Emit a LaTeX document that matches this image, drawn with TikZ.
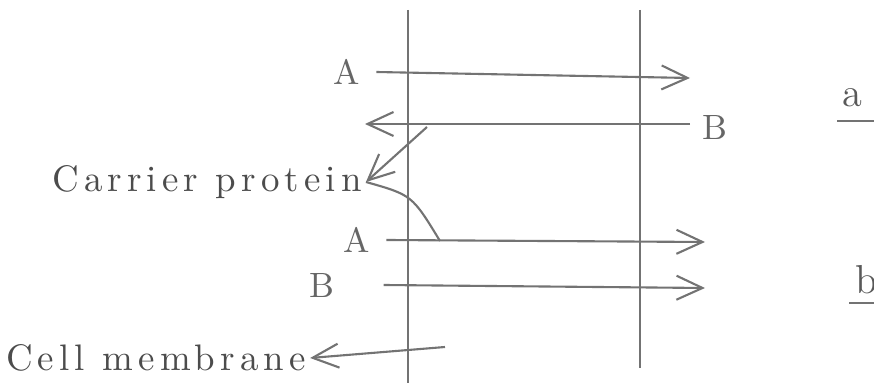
\documentclass[tikz,border=0pt]{standalone}
\usepackage{fontspec}
\newfontfamily\handfont{Latin Modern Roman}[LetterSpace=14]
\usepackage{tikz}
\usetikzlibrary{arrows.meta}

\tikzset{
  pencil/.style={draw=black!55, line width=0.6pt},
  flow/.style={pencil, -{Straight Barb[length=2.6mm,width=2.4mm]}},
  hand/.style={text=black!70, inner sep=1pt, font=\handfont\fontsize{10.5}{12}\selectfont},
  letter/.style={text=black!60, inner sep=1pt, font=\fontsize{10}{11}\selectfont},
  partmark/.style={text=black!65, inner sep=1pt, font=\fontsize{11.5}{13}\selectfont}
}

\begin{document}
\begin{tikzpicture}
\useasboundingbox (0,0) rectangle (8.74,-3.87);

% membranes
\coordinate (lmtop) at (4.08,-0.10);
\coordinate (lmbot) at (4.08,-3.83);
\coordinate (rmtop) at (6.40,-0.10);
\coordinate (rmbot) at (6.40,-3.68);
\draw[pencil] (lmtop) -- (lmbot);
\draw[pencil] (rmtop) -- (rmbot);

% labels
\node[letter] (atop) at (3.47,-0.72) {A};
\node[letter] (btop) at (7.15,-1.28) {B};
\node[letter] (alow) at (3.57,-2.40) {A};
\node[letter] (blow) at (3.22,-2.85) {B};
\node[hand] (carrier) at (2.07,-1.82) {Carrier protein};
\node[hand] (membrane) at (1.56,-3.58) {Cell membrane};
\node[partmark] (parta) at (8.52,-0.98) {a};
\node[partmark] (partb) at (8.66,-2.80) {b};

% ends of the arrows
\coordinate (aend) at (6.90,-0.78);
\coordinate (bstart) at (6.90,-1.24);
\coordinate (bend) at (3.65,-1.24);
\coordinate (alowend) at (7.05,-2.42);
\coordinate (blowend) at (7.05,-2.88);
\coordinate (knob) at (4.27,-1.27);
\coordinate (foot) at (4.40,-2.41);
\coordinate (mempt) at (4.45,-3.47);

\draw[flow] (atop.east) ++(0.12,0) -- (aend);
\draw[flow] (bstart) -- (bend);
\draw[flow] (alow.east) ++(0.12,0) -- (alowend);
\draw[flow] (blow.east) ++(0.45,0) -- (blowend);

% pointers
\draw[flow] (knob) -- (carrier.east);
\draw[pencil] (foot) .. controls (4.12,-1.95) .. (carrier.east);
\draw[flow] (mempt) -- (membrane.east);

% part marks
\draw[pencil, line width=0.4pt] (8.37,-1.21) -- (8.74,-1.21);
\draw[pencil, line width=0.4pt] (8.49,-3.03) -- (8.74,-3.03);
\end{tikzpicture}
\end{document}
